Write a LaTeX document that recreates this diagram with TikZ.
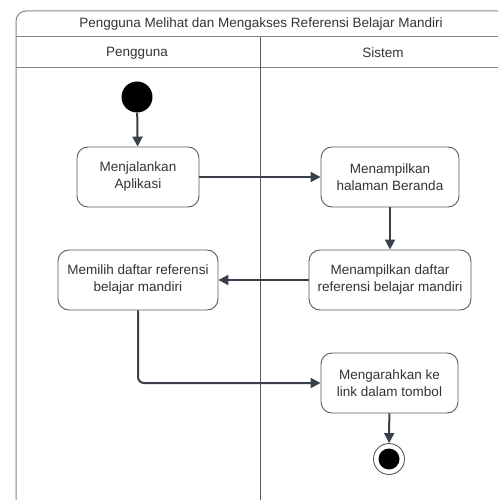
\documentclass[tikz,border=0pt]{standalone}
\usepackage{fontspec}
\setmainfont{Liberation Sans}
\usetikzlibrary{arrows.meta}
\definecolor{flow}{HTML}{3B414B}
\definecolor{edge}{HTML}{5A5A5A}
\definecolor{lane}{HTML}{858585}
\definecolor{ink}{HTML}{333333}
\tikzset{
  action/.style={draw=edge, line width=0.9pt, rounded corners=11pt, fill=white,
    text=ink, align=center, inner sep=0pt,
    font=\fontsize{13.5}{17}\selectfont},
  flowline/.style={draw=flow, line width=2pt, -{Triangle[length=10pt,width=10pt]}},
  laneline/.style={draw=lane, line width=1pt},
  lanetext/.style={text=ink, font=\fontsize{13.5}{16}\selectfont, inner sep=0pt}
}
\begin{document}
\begin{tikzpicture}[x=1pt,y=-1pt]
  \useasboundingbox (0,0) rectangle (498,500);
  \clip (0,0) rectangle (498,500);

  % swimlane frame
  \draw[laneline, rounded corners=10pt] (16,510) -- (16,11) -- (512,11);
  \draw[laneline] (16,37) -- (512,37);
  \draw[laneline] (16,68) -- (512,68);
  \draw[laneline, draw=edge] (260,37) -- (260,510);

  \node[lanetext] (title) at (261,24) {Pengguna Melihat dan Mengakses Referensi Belajar Mandiri};
  \node[lanetext] (laneA) at (137,53) {Pengguna};
  \node[lanetext] (laneB) at (383,53) {Sistem};

  % start and end states
  \node[circle, fill=black, minimum size=31pt, inner sep=0pt] (start) at (137,97) {};
  \node[circle, draw=edge, line width=0.9pt, fill=white, minimum size=31pt, inner sep=0pt] (stop) at (389,459) {};
  \node[circle, fill=black, minimum size=21pt, inner sep=0pt] (stopdot) at (389,459) {};

  % actions
  \node[action, minimum width=122pt, minimum height=60pt] (app) at (138,177) {Menjalankan\\Aplikasi};
  \node[action, minimum width=138pt, minimum height=60pt] (beranda) at (390,177) {Menampilkan\\halaman Beranda};
  \node[action, minimum width=162pt, minimum height=60pt] (daftar) at (390,280) {Menampilkan daftar\\referensi belajar mandiri};
  \node[action, minimum width=160pt, minimum height=60pt] (pilih) at (138,280) {Memilih daftar referensi\\belajar mandiri};
  \node[action, minimum width=137pt, minimum height=60pt] (arah) at (389.5,383) {Mengarahkan ke\\link dalam tombol};

  % control flow
  \draw[flowline] (start) -- (app);
  \draw[flowline] (app) -- (beranda);
  \draw[flowline] (beranda) -- (daftar);
  \draw[flowline] (daftar) -- (pilih);
  \draw[flowline, rounded corners=6pt] (pilih.south) |- (arah.west);
  \draw[flowline] (arah) -- (stop);
\end{tikzpicture}
\end{document}
